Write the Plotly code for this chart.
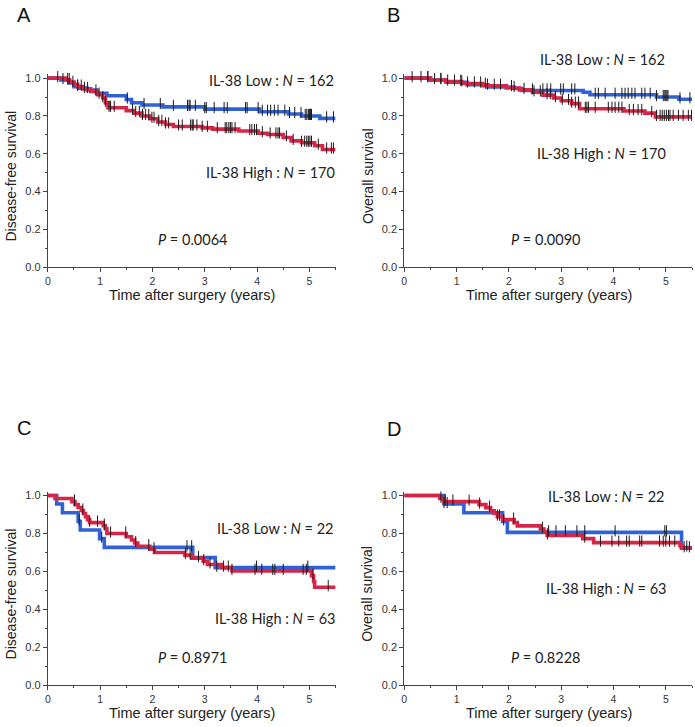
import plotly.graph_objects as go

W, H = 695, 727

# ---------------- data ----------------
# Panel A: disease-free survival, whole cohort
a_low_t = [0, 0.25, 0.4, 0.5, 0.6, 0.75, 0.93, 1.13, 1.5, 1.6, 1.8, 2.2, 3.0, 4.05, 4.6, 4.85, 5.2, 5.5]
a_low_s = [1.0, 0.99, 0.975, 0.955, 0.947, 0.937, 0.92, 0.907, 0.887, 0.87, 0.858, 0.848, 0.836, 0.822, 0.81, 0.80, 0.787, 0.787]
a_low_c = [0.19, 0.29, 0.38, 0.48, 0.57, 1.52, 1.84, 2.15, 2.4, 2.67, 2.7, 2.72, 2.82, 3.0, 3.03, 3.18, 3.37,
           3.43, 3.78, 3.81, 4.02, 4.1, 4.2, 4.26, 4.33, 4.4, 4.53, 4.62, 4.72, 4.84, 4.92, 4.95, 4.98, 5.0, 5.02,
           5.04, 5.33, 5.46]
a_high_t = [0, 0.35, 0.42, 0.5, 0.57, 0.68, 0.82, 0.95, 1.05, 1.1, 1.15, 1.5, 1.65, 1.8, 1.95, 2.1, 2.25, 2.4,
            2.95, 3.15, 3.65, 4.02, 4.2, 4.5, 4.65, 4.85, 5.1, 5.25, 5.5]
a_high_s = [1.0, 0.99, 0.98, 0.967, 0.955, 0.943, 0.93, 0.913, 0.895, 0.87, 0.843, 0.828, 0.815, 0.8, 0.785,
            0.768, 0.755, 0.744, 0.737, 0.73, 0.72, 0.708, 0.702, 0.686, 0.668, 0.658, 0.642, 0.622, 0.622]
a_high_c = [0.41, 0.57, 0.64, 0.7, 0.76, 0.92, 0.98, 1.05, 1.1, 1.17, 1.2, 1.27, 1.62, 1.68, 1.75, 1.81, 1.87,
            1.93, 1.99, 2.03, 2.12, 2.18, 2.25, 2.31, 2.5, 2.57, 2.73, 2.76, 2.78, 2.85, 2.95, 3.05, 3.24, 3.39,
            3.42, 3.46, 3.49, 3.52, 3.58, 3.86, 3.9, 3.95, 3.99, 4.1, 4.25, 4.36, 4.4, 4.43, 4.56, 4.69, 4.85,
            4.91, 4.95, 4.98, 5.01, 5.04, 5.17, 5.33, 5.42, 5.46]

# Panel B: overall survival, whole cohort
b_low_t = [0, 0.5, 0.8, 1.2, 1.6, 2.1, 2.25, 3.42, 3.55, 4.82, 5.25, 5.5]
b_low_s = [1.0, 0.99, 0.978, 0.965, 0.953, 0.945, 0.935, 0.925, 0.912, 0.9, 0.888, 0.888]
b_low_c = [0.15, 0.45, 0.7, 1.1, 1.55, 2.05, 2.45, 2.65, 2.73, 2.8, 2.99, 3.04, 3.2, 3.26, 3.65, 3.71, 3.84,
           4.03, 4.16, 4.22, 4.28, 4.35, 4.41, 4.54, 4.6, 4.7, 4.82, 4.95, 4.98, 5.0, 5.02, 5.04, 5.27, 5.46]
b_high_t = [0, 0.5, 0.8, 1.1, 1.5, 1.95, 2.2, 2.45, 2.65, 2.85, 3.0, 3.2, 3.35, 4.2, 4.6, 4.8, 5.5]
b_high_s = [1.0, 0.99, 0.982, 0.972, 0.96, 0.948, 0.938, 0.925, 0.91, 0.895, 0.88, 0.865, 0.838, 0.826,
            0.815, 0.795, 0.795]
b_high_c = [0.32, 0.45, 0.58, 0.7, 0.83, 0.96, 1.08, 1.21, 1.34, 1.46, 1.59, 1.72, 1.84, 2.1, 2.29, 2.48,
            2.6, 2.73, 2.79, 2.89, 3.02, 3.14, 3.2, 3.27, 3.33, 3.46, 3.49, 3.52, 3.65, 3.9, 3.97, 4.03, 4.1,
            4.16, 4.3, 4.38, 4.47, 4.54, 4.73, 4.82, 4.89, 4.93, 4.97, 5.01, 5.05, 5.08, 5.14, 5.24, 5.33,
            5.43, 5.49]

# Panel C: disease-free survival, subgroup
c_low_t = [0, 0.17, 0.28, 0.58, 0.62, 0.99, 1.08, 2.77, 3.2, 5.5]
c_low_s = [1.0, 0.955, 0.909, 0.864, 0.818, 0.773, 0.727, 0.673, 0.62, 0.62]
c_low_c = [0.6, 1.03, 2.66, 2.75, 3.23, 3.99, 4.97]
c_high_t = [0, 0.14, 0.46, 0.52, 0.58, 0.64, 0.68, 0.72, 0.76, 0.8, 1.06, 1.1, 1.13, 1.5, 1.6, 1.66, 1.72,
            1.95, 2.04, 2.62, 2.75, 2.97, 3.05, 3.33, 3.52, 5.04, 5.08, 5.1, 5.5]
c_high_s = [1.0, 0.984, 0.968, 0.952, 0.937, 0.921, 0.905, 0.889, 0.873, 0.857, 0.841, 0.825, 0.80, 0.783,
            0.766, 0.75, 0.733, 0.717, 0.70, 0.686, 0.67, 0.654, 0.637, 0.62, 0.603, 0.578, 0.547, 0.517, 0.517]
c_high_c = [0.51, 0.67, 0.8, 0.95, 1.08, 1.2, 1.49, 1.68, 1.93, 2.03, 2.63, 2.72, 2.88, 2.98, 3.1, 3.36, 3.45,
            3.52, 3.96, 4.09, 4.3, 4.34, 4.5, 4.88, 4.94, 5.07, 5.36]

# Panel D: overall survival, subgroup
d_low_t = [0, 0.76, 1.14, 1.88, 1.97, 5.3, 5.5]
d_low_s = [1.0, 0.955, 0.909, 0.864, 0.806, 0.726, 0.726]
d_low_c = [0.76, 0.82, 1.9, 2.76, 2.9, 3.08, 3.3, 3.45, 4.03, 4.98, 5.01, 5.4]
d_high_t = [0, 0.68, 0.75, 1.43, 1.56, 1.65, 1.72, 1.78, 1.88, 2.1, 2.16, 2.6, 2.67, 2.73, 3.41, 3.62, 5.27,
            5.3, 5.5]
d_high_s = [1.0, 0.984, 0.968, 0.952, 0.936, 0.92, 0.905, 0.889, 0.873, 0.857, 0.84, 0.824, 0.808, 0.79,
            0.773, 0.752, 0.736, 0.722, 0.722]
d_high_c = [0.7, 0.78, 0.93, 1.24, 1.44, 1.63, 1.78, 1.82, 2.09, 2.64, 2.74, 3.45, 3.75, 3.97, 4.1, 4.25,
            4.3, 4.5, 4.54, 4.88, 4.95, 5.0, 5.07, 5.17, 5.35, 5.45]

panel_letters = ["A", "B", "C", "D"]
y_titles = ["Disease-free survival", "Overall survival", "Disease-free survival", "Overall survival"]
x_title = "Time after surgery (years)"
low_labels = ["IL-38 Low : <i>N</i> = 162", "IL-38 Low : <i>N</i> = 162",
              "IL-38 Low : <i>N</i> = 22", "IL-38 Low : <i>N</i> = 22"]
high_labels = ["IL-38 High : <i>N</i> = 170", "IL-38 High : <i>N</i> = 170",
               "IL-38 High : <i>N</i> = 63", "IL-38 High : <i>N</i> = 63"]
p_labels = ["<i>P</i> = 0.0064", "<i>P</i> = 0.0090", "<i>P</i> = 0.8971", "<i>P</i> = 0.8228"]
x_ticks = [0, 1, 2, 3, 4, 5]
y_ticks = [0.0, 0.2, 0.4, 0.6, 0.8, 1.0]

panels = [
    (a_low_t, a_low_s, a_low_c, a_high_t, a_high_s, a_high_c),
    (b_low_t, b_low_s, b_low_c, b_high_t, b_high_s, b_high_c),
    (c_low_t, c_low_s, c_low_c, c_high_t, c_high_s, c_high_c),
    (d_low_t, d_low_s, d_low_c, d_high_t, d_high_s, d_high_c),
]

# ---------------- layout geometry (pixels) ----------------
BLUE = "rgb(48,98,214)"
RED = "rgb(214,38,72)"
X_MAX = 5.5
Y_MAX = 1.02

# (left px, right px, y of 0.0 px, y of 1.0 px)
geom = [(45, 334, 268, 77), (403, 692, 268, 77), (45, 334, 691, 499), (403, 692, 691, 499)]


def px(xp):
    return xp / W


def py(yp):
    return 1 - yp / H


def surv_at(ts, ss, t):
    v = ss[0]
    for ti, si in zip(ts, ss):
        if ti <= t:
            v = si
    return v


fig = go.Figure()
layout = dict(width=W, height=H, margin=dict(l=0, r=0, t=0, b=0),
              paper_bgcolor="white", plot_bgcolor="white", showlegend=False)
annotations = []

for i, (lt, ls, lc, ht, hs, hc) in enumerate(panels):
    n = "" if i == 0 else str(i + 1)
    xa, ya = "x" + n, "y" + n
    left, right, y0, y1 = geom[i]
    unit = (y0 - y1)
    ytop = y0 - unit * Y_MAX
    layout["xaxis" + n] = dict(
        domain=[px(left), px(right)], range=[0, X_MAX], anchor=ya,
        showline=True, linecolor="#444", linewidth=1, ticks="outside", ticklen=4, tickcolor="#444",
        tickvals=x_ticks, ticktext=[str(v) for v in x_ticks],
        tickfont=dict(family="Liberation Sans", size=10.5, color="#333"),
        minor=dict(dtick=0.5, ticks="outside", ticklen=2, tickcolor="#444"),
        showgrid=False, zeroline=False, fixedrange=True)
    layout["yaxis" + n] = dict(
        domain=[py(y0), py(ytop)], range=[0, Y_MAX], anchor=xa,
        showline=True, linecolor="#444", linewidth=1, ticks="outside", ticklen=4, tickcolor="#444",
        tickvals=y_ticks, ticktext=[f"{v:.1f}" for v in y_ticks],
        tickfont=dict(family="Liberation Sans", size=11, color="#333"),
        minor=dict(dtick=0.1, ticks="outside", ticklen=2, tickcolor="#444"),
        showgrid=False, zeroline=False, fixedrange=True)

    for ts, ss, cs, col in [(lt, ls, lc, BLUE), (ht, hs, hc, RED)]:
        fig.add_trace(go.Scatter(x=ts, y=ss, mode="lines", line=dict(color=col, width=3.6, shape="hv"),
                                 xaxis=xa, yaxis=ya, hoverinfo="skip"))
    for ts, ss, cs, col in [(lt, ls, lc, BLUE), (ht, hs, hc, RED)]:
        fig.add_trace(go.Scatter(x=cs, y=[surv_at(ts, ss, c) + 0.008 for c in cs], mode="markers",
                                 marker=dict(symbol="line-ns", size=8, line=dict(width=1, color="#1a1a1a")),
                                 xaxis=xa, yaxis=ya, hoverinfo="skip", cliponaxis=False))

    # text positions (pixels)
    font_txt = dict(family="Lato", size=14.5, color="#222")
    if i % 2 == 0:
        low_xy, high_xy, p_xy = (334, 79 if i == 0 else 532), (335, 172 if i == 0 else 623), (190, 240 if i == 0 else 663)
    else:
        low_xy, high_xy, p_xy = (667, 58 if i == 1 else 500), (668, 153 if i == 1 else 593), (545, 240 if i == 1 else 663)
    annotations += [
        dict(x=px(low_xy[0]), y=py(low_xy[1]), xref="paper", yref="paper", text=low_labels[i],
             showarrow=False, xanchor="right", yanchor="middle", font=font_txt),
        dict(x=px(high_xy[0]), y=py(high_xy[1]), xref="paper", yref="paper", text=high_labels[i],
             showarrow=False, xanchor="right", yanchor="middle", font=font_txt),
        dict(x=px(p_xy[0]), y=py(p_xy[1]), xref="paper", yref="paper", text=p_labels[i],
             showarrow=False, xanchor="center", yanchor="middle", font=font_txt),
    ]
    # axis titles
    annotations += [
        dict(x=px(left - 37), y=py((y0 + y1) / 2 + 3), xref="paper", yref="paper", text=y_titles[i],
             showarrow=False, textangle=-90, xanchor="center", yanchor="middle",
             font=dict(family="Liberation Sans", size=14, color="#222")),
        dict(x=px(left + 145), y=py(y0 + 19), xref="paper", yref="paper", text=x_title,
             showarrow=False, xanchor="center", yanchor="top", borderpad=0,
             font=dict(family="Liberation Sans", size=14.5, color="#222")),
    ]

letter_pos = [(21, 13), (392, 13), (21, 431), (393, 432)]
for L, (lx, ly) in zip(panel_letters, letter_pos):
    annotations.append(dict(x=px(lx), y=py(ly), xref="paper", yref="paper", text=L, showarrow=False,
                            xanchor="center", yanchor="middle",
                            font=dict(family="Liberation Sans", size=20, color="#111")))

layout["annotations"] = annotations
fig.update_layout(**layout)
fig.write_html("out.html", config={"displayModeBar": False},
               post_script="document.body.style.margin='0';document.body.style.overflow='hidden';")
